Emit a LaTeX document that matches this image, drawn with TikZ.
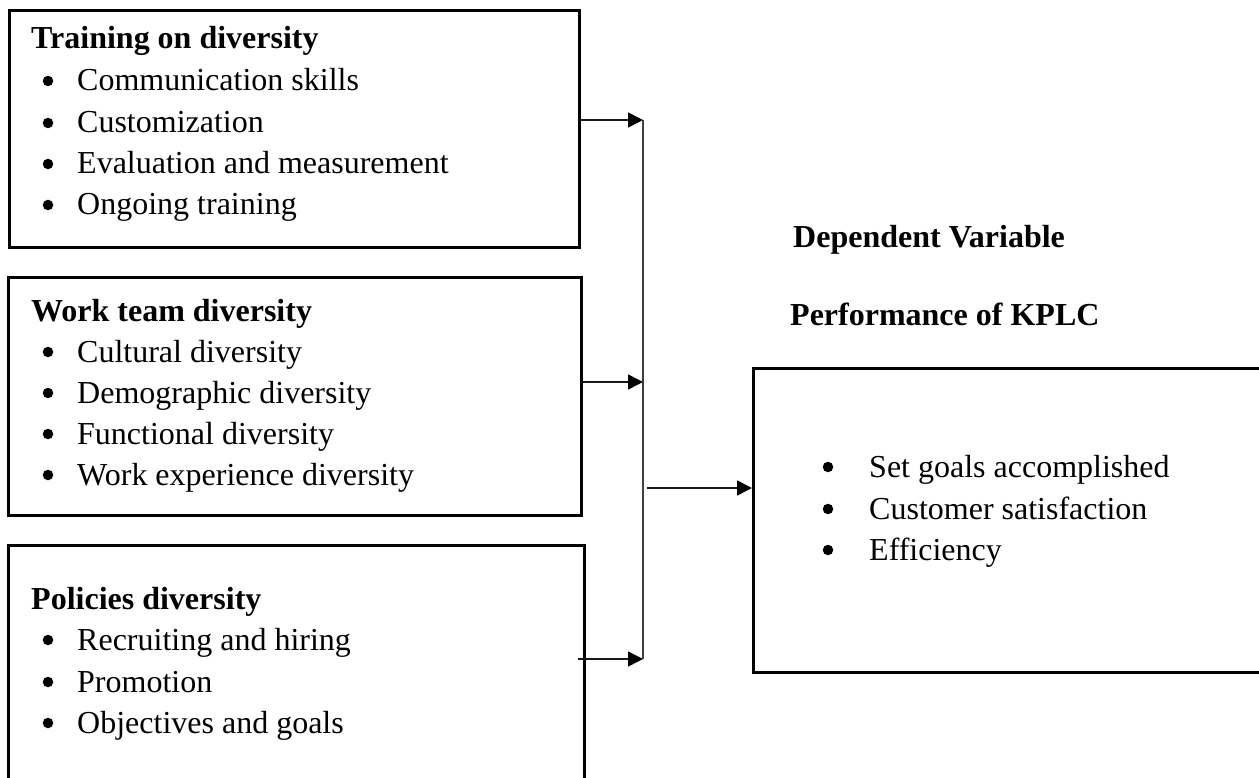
\documentclass[tikz,border=0pt]{standalone}
\usepackage{fontspec}
\setmainfont{Liberation Serif}
\usetikzlibrary{arrows.meta}
\begin{document}
\begin{tikzpicture}[x=1pt,y=-1pt,
  box/.style={draw=black,line width=2.6pt,inner sep=0pt,anchor=north west},
  conn/.style={line width=1.6pt,draw=black!75},
  arr/.style={line width=1.5pt,draw=black!90,-{Triangle[length=15pt,width=15pt,color=black]}},
  ttl/.style={anchor=base west,inner sep=0pt,font=\fontsize{32}{38}\selectfont\bfseries},
  itm/.style={anchor=base west,inner sep=0pt,font=\fontsize{32}{38}\selectfont},
  bul/.style={circle,fill=black,inner sep=0pt,minimum size=10.5pt,yshift=10pt}]
\clip (0,0) rectangle (1259,778);
\fill[white] (0,0) rectangle (1259,778);
% boxes
\node[box,minimum width=570pt,minimum height=237pt] (b1) at (8,9) {};
\node[box,minimum width=573pt,minimum height=238pt] (b2) at (7,276) {};
\node[box,minimum width=576pt,minimum height=290pt] (b3) at (7,544) {};
\node[box,minimum width=530pt,minimum height=304pt] (rb) at (752,367) {};
% box 1 text
\node[ttl] (t1) at (31,49) {Training on diversity};
\node[bul] (t1b1) at (48,91) {};
\node[itm] (t1i1) at (77,91) {Communication skills};
\node[bul] (t1b2) at (48,133) {};
\node[itm] (t1i2) at (77,133) {Customization};
\node[bul] (t1b3) at (48,174) {};
\node[itm] (t1i3) at (77,174) {Evaluation and measurement};
\node[bul] (t1b4) at (48,215) {};
\node[itm] (t1i4) at (77,215) {Ongoing training};
% box 2 text
\node[ttl] (t2) at (31,321) {Work team diversity};
\node[bul] (t2b1) at (48,362) {};
\node[itm] (t2i1) at (77,362) {Cultural diversity};
\node[bul] (t2b2) at (48,403) {};
\node[itm] (t2i2) at (77,403) {Demographic diversity};
\node[bul] (t2b3) at (48,444) {};
\node[itm] (t2i3) at (77,444) {Functional diversity};
\node[bul] (t2b4) at (48,485) {};
\node[itm] (t2i4) at (77,485) {Work experience diversity};
% box 3 text
\node[ttl] (t3) at (31,609) {Policies diversity};
\node[bul] (t3b1) at (48,650) {};
\node[itm] (t3i1) at (77,650) {Recruiting and hiring};
\node[bul] (t3b2) at (48,692) {};
\node[itm] (t3i2) at (77,692) {Promotion};
\node[bul] (t3b3) at (48,733) {};
\node[itm] (t3i3) at (77,733) {Objectives and goals};
% right side
\node[ttl] (dv) at (793,248) {Dependent Variable};
\node[ttl] (pk) at (790,325) {Performance of KPLC};
\node[bul] (rb1) at (828,477) {};
\node[itm] (ri1) at (869,477) {Set goals accomplished};
\node[bul] (rb2) at (828,519) {};
\node[itm] (ri2) at (869,519) {Customer satisfaction};
\node[bul] (rb3) at (828,560) {};
\node[itm] (ri3) at (869,560) {Efficiency};
% connectors
\coordinate (v1) at (643,120);
\coordinate (v2) at (643,382);
\coordinate (v3) at (643,659);
\coordinate (s3) at (578,659);
\coordinate (o) at (647,488);
\draw[conn] (v1) -- (v3);
\draw[arr] (b1.east |- v1) -- (v1);
\draw[arr] (b2.east |- v2) -- (v2);
\draw[arr] (s3) -- (v3);
\draw[arr] (o) -- (rb.west |- o);
\end{tikzpicture}
\end{document}
